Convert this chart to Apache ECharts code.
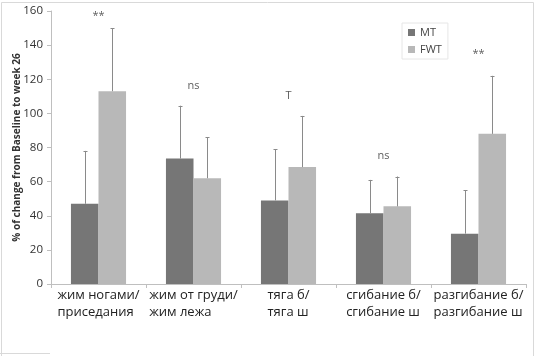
<!DOCTYPE html>
<html><head><meta charset="utf-8">
<script src="https://cdn.jsdelivr.net/npm/echarts@6/dist/echarts.min.js"></script>
<style>html,body{margin:0;padding:0;background:#fff}#c{width:536px;height:356px}</style>
</head><body><div id="c"></div>
<script>
const categories = ['жим ногами/\nприседания', 'жим от груди/\nжим лежа', 'тяга б/\nтяга ш', 'сгибание б/\nсгибание ш', 'разгибание б/\nразгибание ш'];
const mtValues = [47, 73.5, 49, 41.5, 29.5];
const mtErr = [31, 31, 30, 19.5, 25.5];
const fwtValues = [113, 62, 68.5, 45.5, 88];
const fwtErr = [37, 24, 30, 17.5, 34];
const sigLabels = ['**', 'ns', 'T', 'ns', '**'];
const sigPos = [157, 116, 110, 75, 135];
const yTicks = [0, 20, 40, 60, 80, 100, 120, 140, 160];

const MT_COLOR = '#767676';
const FWT_COLOR = '#b8b8b8';
const ERR_COLOR = '#8a8a8a';
const FONT = 'Open Sans';

function errSeries(name, values, errs, idx) {
  return {
    type: 'custom', name: name + '_err', silent: true, z: 5,
    data: values.map((v, i) => [i, v, v + errs[i]]),
    renderItem: function (params, api) {
      const xi = api.value(0);
      const base = api.coord([xi, api.value(1)]);
      const top = api.coord([xi, api.value(2)]);
      const bw = api.size([1, 0])[0] * 0.29;
      const x = Math.round(base[0] + (idx === 0 ? -bw / 2 : bw / 2)) + 0.5;
      return {
        type: 'group', children: [
          { type: 'line', shape: { x1: x, y1: base[1], x2: x, y2: top[1] }, style: { stroke: ERR_COLOR, lineWidth: 1 } },
          { type: 'line', shape: { x1: x - 2, y1: Math.round(top[1]) + 0.5, x2: x + 2, y2: Math.round(top[1]) + 0.5 }, style: { stroke: ERR_COLOR, lineWidth: 1 } }
        ]
      };
    }
  };
}

const chart = echarts.init(document.getElementById('c'), null, { renderer: 'canvas' });
chart.setOption({
  animation: false,
  backgroundColor: '#fff',
  textStyle: { fontFamily: FONT },
  grid: { left: 51, right: 10, top: 11, bottom: 72, containLabel: false, outerBoundsMode: 'none' },
  legend: {
    data: ['MT', 'FWT'], orient: 'vertical', left: 402, top: 23,
    itemWidth: 7, itemHeight: 7, itemGap: 6, icon: 'rect',
    padding: [4, 6, 4, 6], borderColor: '#e6e6e6', borderWidth: 1,
    textStyle: { fontSize: 11, color: '#444', fontFamily: FONT }
  },
  xAxis: {
    type: 'category', data: categories,
    axisLine: { lineStyle: { color: '#bfbfbf' } },
    axisTick: { show: true, length: 4, lineStyle: { color: '#bfbfbf' } },
    axisLabel: {
      interval: 0, margin: 3, color: '#222',
      formatter: v => v.split('\n').map(s => '{a|' + s + '}').join('\n'),
      rich: { a: { fontSize: 13, lineHeight: 17, align: 'left', fontFamily: FONT, color: '#222' } }
    }
  },
  yAxis: {
    type: 'value', min: 0, max: 160, interval: 20,
    name: '% of change from Baseline to week 26', nameLocation: 'middle', nameGap: 29, nameRotate: 90,
    nameMoveOverlap: false,
    nameTextStyle: { fontSize: 10, fontWeight: 'bold', color: '#333', fontFamily: "'Liberation Sans Narrow', 'Open Sans'" },
    axisLine: { show: true, lineStyle: { color: '#bfbfbf' } },
    axisTick: { show: true, length: 4, lineStyle: { color: '#bfbfbf' } },
    splitLine: { show: false },
    axisLabel: { fontSize: 11.5, color: '#333', margin: 8, fontFamily: FONT,
      formatter: v => yTicks.indexOf(v) >= 0 ? String(v) : '' }
  },
  series: [
    { name: 'MT', type: 'bar', data: mtValues, barWidth: '29%', barGap: '0%', itemStyle: { color: MT_COLOR } },
    { name: 'FWT', type: 'bar', data: fwtValues, barWidth: '29%', barGap: '0%', itemStyle: { color: FWT_COLOR } },
    errSeries('MT', mtValues, mtErr, 0),
    errSeries('FWT', fwtValues, fwtErr, 1),
    {
      type: 'scatter', name: 'sig', symbolSize: 0, silent: true,
      data: sigPos.map((v, i) => [i, v]),
      label: { show: true, position: 'inside', formatter: p => sigLabels[p.dataIndex], fontSize: 11, color: '#333', fontFamily: FONT }
    }
  ],
  graphic: [
    { type: 'polyline', shape: { points: [[1.5, 356], [1.5, 2.5], [533.5, 2.5], [533.5, 356]] }, style: { stroke: '#d9d9d9', fill: null, lineWidth: 1 } },
    { type: 'line', shape: { x1: 0, y1: 353.5, x2: 50, y2: 353.5 }, style: { stroke: '#d9d9d9', lineWidth: 1 } }
  ]
});
</script></body></html>
